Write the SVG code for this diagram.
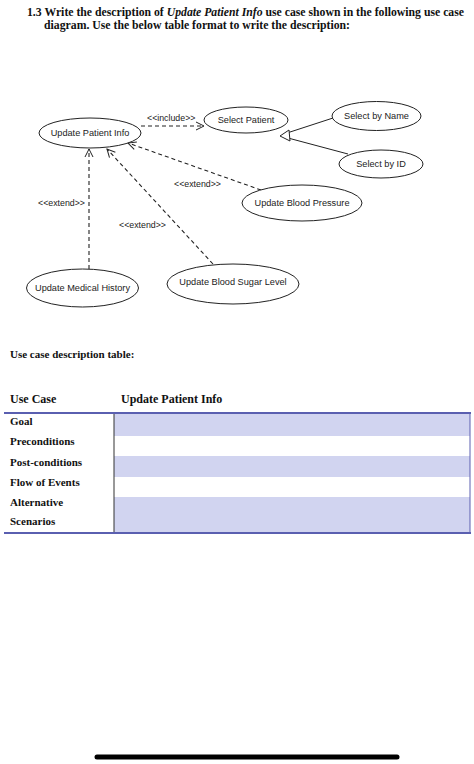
<svg xmlns="http://www.w3.org/2000/svg" width="474" height="764" viewBox="0 0 474 764">
<style>
.t{font-family:"Liberation Serif","Times New Roman",serif;font-weight:bold;fill:#111}
.uc ellipse{fill:#fff;stroke:#222;stroke-width:1}
.uc text{font-family:"Liberation Sans",Arial,sans-serif;font-size:9.2px;fill:#222;text-anchor:middle}
.lbl{font-family:"Liberation Sans",Arial,sans-serif;font-size:8.8px;fill:#222}
.dash{stroke:#222;stroke-width:1.1;stroke-dasharray:4 3;fill:none}
.solid{stroke:#222;stroke-width:1;fill:none}
.tb{font-family:"Liberation Serif","Times New Roman",serif;font-weight:bold;font-size:11px;fill:#111}
</style>
<defs>
<marker id="open" markerWidth="10" markerHeight="10" refX="9" refY="5" orient="auto" markerUnits="userSpaceOnUse">
<path d="M1,1 L9,5 L1,9" fill="none" stroke="#222" stroke-width="1"/>
</marker>
</defs>
<rect width="474" height="764" fill="#fff"/>
<text class="t" font-size="11.5" x="27" y="16" textLength="437" lengthAdjust="spacingAndGlyphs">1.3 Write the description of <tspan font-style="italic">Update Patient Info</tspan> use case shown in the following use case</text>
<text class="t" font-size="11.5" x="44" y="29" textLength="306" lengthAdjust="spacingAndGlyphs">diagram. Use the below table format to write the description:</text>

<g id="connectors">
<line class="dash" x1="141" y1="126" x2="204" y2="126" marker-end="url(#open)"/>
<text class="lbl" x="147" y="121">&lt;&lt;include&gt;&gt;</text>
<line class="solid" x1="333" y1="118" x2="287" y2="133"/>
<line class="solid" x1="348" y1="154" x2="288" y2="138"/>
<polygon points="280,136 289,130 290,141" fill="#fff" stroke="#222" stroke-width="1"/>
<line class="dash" x1="261" y1="190" x2="128" y2="143" marker-end="url(#open)"/>
<text class="lbl" x="174" y="187">&lt;&lt;extend&gt;&gt;</text>
<line class="dash" x1="89" y1="269" x2="89" y2="149" marker-end="url(#open)"/>
<text class="lbl" x="38" y="206">&lt;&lt;extend&gt;&gt;</text>
<line class="dash" x1="213" y1="264" x2="107" y2="149" marker-end="url(#open)"/>
<text class="lbl" x="119" y="228">&lt;&lt;extend&gt;&gt;</text>
</g>

<g id="update-patient-info" class="uc"><ellipse cx="90" cy="133" rx="51" ry="15"/><text x="90" y="136">Update Patient Info</text></g>
<g id="select-patient" class="uc"><ellipse cx="246" cy="120" rx="42" ry="13"/><text x="246" y="123">Select Patient</text></g>
<g id="select-by-name" class="uc"><ellipse cx="376.5" cy="116" rx="44.5" ry="14.5"/><text x="376.5" y="119">Select by Name</text></g>
<g id="select-by-id" class="uc"><ellipse cx="381" cy="164" rx="42" ry="14"/><text x="381" y="167">Select by ID</text></g>
<g id="update-blood-pressure" class="uc"><ellipse cx="302" cy="203" rx="60" ry="18"/><text x="302" y="206">Update Blood Pressure</text></g>
<g id="update-medical-history" class="uc"><ellipse cx="82.5" cy="288" rx="56" ry="19"/><text x="82.5" y="291">Update Medical History</text></g>
<g id="update-blood-sugar-level" class="uc"><ellipse cx="233" cy="284" rx="66" ry="20"/><text x="233" y="285">Update Blood Sugar Level</text></g>

<text class="t" font-size="11" x="10" y="358">Use case description table:</text>

<g id="table">
<text class="t" font-size="12" x="10" y="403">Use Case</text>
<text class="t" font-size="12" x="121" y="403">Update Patient Info</text>
<rect x="114" y="413" width="356" height="23" fill="#d1d4f0"/>
<rect x="114" y="456" width="356" height="21" fill="#d1d4f0"/>
<rect x="114" y="497" width="356" height="36" fill="#d1d4f0"/>
<line x1="114" y1="413" x2="114" y2="533" stroke="#333" stroke-width="1"/>
<line x1="470" y1="413" x2="470" y2="533" stroke="#5a5fb0" stroke-width="1"/>
<line x1="4" y1="413" x2="471" y2="413" stroke="#5a5fb0" stroke-width="2"/>
<line x1="4" y1="533" x2="471" y2="533" stroke="#5a5fb0" stroke-width="2"/>
<text class="tb" x="10" y="425">Goal</text>
<text class="tb" x="10" y="445">Preconditions</text>
<text class="tb" x="10" y="466">Post-conditions</text>
<text class="tb" x="10" y="486">Flow of Events</text>
<text class="tb" x="10" y="506">Alternative</text>
<text class="tb" x="10" y="525">Scenarios</text>
</g>

<line x1="97" y1="757" x2="397" y2="757" stroke="#000" stroke-width="5" stroke-linecap="round"/>
</svg>
